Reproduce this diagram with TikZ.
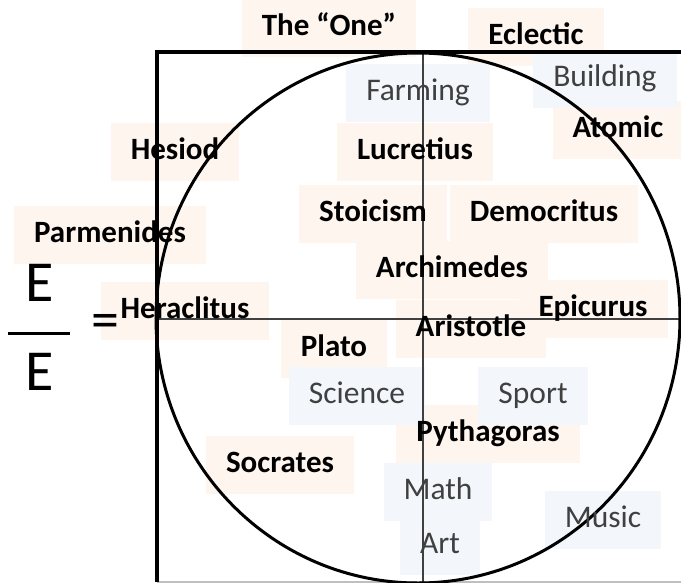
\documentclass[tikz,border=0pt]{standalone}
\usepackage{fontspec}
\setmainfont{Carlito}
\usepackage{xcolor}
\usepackage{tikz}
\usetikzlibrary{calc, positioning}

\definecolor{peach}{HTML}{FEF5EF}
\definecolor{sky}{HTML}{F3F7FB}
\definecolor{ink}{HTML}{404040}

\tikzset{
    thinker/.style={font=\fontsize{31}{36}\selectfont\bfseries, text=black, text height=20pt, text depth=6pt},
    field/.style={font=\fontsize{31.5}{36}\selectfont, text=ink, text height=20pt, text depth=6pt},
    pbox/.style={fill=peach, inner xsep=20pt, inner ysep=16pt},
    bbox/.style={fill=sky, inner xsep=20pt, inner ysep=16pt},
}

\begin{document}
\begin{tikzpicture}[x=1pt, y=-1pt]
    \useasboundingbox (0,0) rectangle (681,582);

    % Nền nhạt sau các chữ
    \foreach \x/\y/\t in {329/28/{The “One”}, 536/37/Eclectic, 618/130/Atomic,
        175/152/Hesiod, 415/152/Lucretius, 373/214/Stoicism, 544/214/Democritus,
        110/235/Parmenides, 452/270/Archimedes, 185/311/Heraclitus, 593/309/Epicurus,
        471/329/Aristotle, 334/349/Plato, 488/434/Pythagoras, 280/465/Socrates} {
        \node[thinker, pbox] at (\x,\y) {\phantom{\t}};
    }
    \foreach \x/\y/\t in {418/93/Farming, 605/79/Building, 357/396/Science,
        533/396/Sport, 438/492/Math, 603/520/Music, 440/546/Art} {
        \node[field, bbox] at (\x,\y) {\phantom{\t}};
    }

    % Khung và hai trục
    \coordinate (tl) at (157,52);
    \coordinate (tr) at (681,52);
    \coordinate (bl) at (157,582);
    \coordinate (br) at (681,582);
    \draw[gray!50, line width=1.5pt] (bl) -- (br);
    \draw[ink, line width=1.2pt] (423,52) -- (423,582);
    \draw[ink, line width=1.2pt] (157,319) -- (681,319);
    \draw[line width=4.5pt] (tr) -- (tl) -- (bl);

    % Đường tròn
    \draw[line width=3pt] (418,318) ellipse [x radius=262pt, y radius=265pt];

    % Các tên
    \foreach \n/\x/\y/\t in {one/329/28/{The “One”}, eclectic/536/37/Eclectic,
        atomic/618/130/Atomic, hesiod/175/152/Hesiod, lucretius/415/152/Lucretius,
        stoicism/373/214/Stoicism, democritus/544/214/Democritus,
        parmenides/110/235/Parmenides, archimedes/452/270/Archimedes,
        heraclitus/185/311/Heraclitus, epicurus/593/309/Epicurus,
        aristotle/471/329/Aristotle, plato/334/349/Plato,
        pythagoras/488/434/Pythagoras, socrates/280/465/Socrates} {
        \node[thinker] (\n) at (\x,\y) {\t};
    }
    \foreach \n/\x/\y/\t in {farming/418/93/Farming, building/605/79/Building,
        science/357/396/Science, sport/533/396/Sport, math/438/492/Math,
        music/603/520/Music, art/440/546/Art} {
        \node[field] (\n) at (\x,\y) {\t};
    }

    % E trên E
    \node[font=\fontsize{58}{60}\selectfont] (etop) at (40,283) {E};
    \node[font=\fontsize{58}{60}\selectfont] (ebot) at (40,372) {E};
    \coordinate (barl) at (8,333);
    \coordinate (barr) at (70,333);
    \draw[line width=3pt] (barl) -- (barr);
    \node[font=\fontsize{56}{60}\selectfont, anchor=base] (eq) at (105,338) {=};

\end{tikzpicture}
\end{document}
